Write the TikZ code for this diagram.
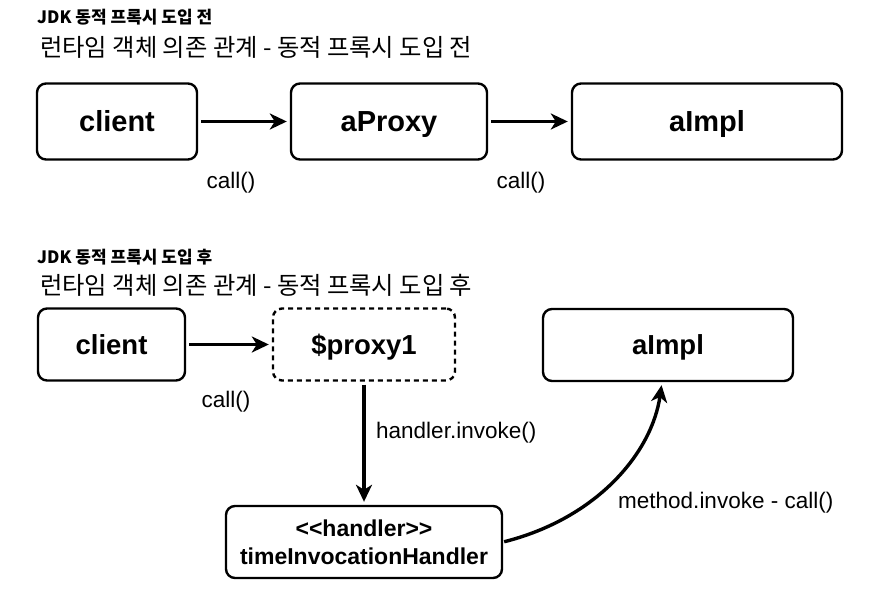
\documentclass[tikz,border=0pt]{standalone}
\usepackage{fontspec}
\setmainfont{Liberation Sans}
\newfontfamily\krfont{Noto Sans CJK KR}
\usetikzlibrary{arrows.meta}

\begin{document}
\begin{tikzpicture}[x=1pt, y=-1pt, >={Stealth[length=17pt, width=16pt, inset=5pt]},
	box/.style={draw, line width=2.4pt, rounded corners=9pt, inner sep=0pt, minimum height=76pt},
	big word/.style={text height=20.9pt, text depth=0pt, font=\fontsize{29}{32}\selectfont\bfseries},
	word/.style={text height=19.8pt, text depth=0pt, font=\fontsize{27.5}{30}\selectfont\bfseries},
	dashbox/.style={box, dash pattern=on 5pt off 4pt},
	arr/.style={->, line width=3.4pt, shorten <=3pt, shorten >=3pt},
	lbl/.style={inner sep=0pt, font=\fontsize{22.5}{26}\selectfont},
	small title/.style={anchor=base west, inner sep=0pt, font=\krfont\bfseries\fontsize{17}{19}\selectfont},
	big title/.style={anchor=base west, inner sep=0pt, font=\krfont\fontsize{24.3}{28}\selectfont}]
	\useasboundingbox (0,0) rectangle (882,605);
	% before
	\node[small title] (t1) at (37,23.6) {JDK 동적 프록시 도입 전};
	\node[big title] (t2) at (40,56) {런타임 객체 의존 관계 - 동적 프록시 도입 전};
	\node[box, big word, minimum width=160pt] (client) at (117,121.5) {client};
	\node[box, big word, minimum width=196pt] (aProxy) at (389,121.5) {aProxy};
	\node[box, big word, minimum width=270pt] (aImpl) at (707,121.5) {aImpl};
	\draw[arr] (client) -- (aProxy);
	\draw[arr] (aProxy) -- (aImpl);
	\node[lbl] (call1) at (231,183) {call()};
	\node[lbl] (call2) at (521,183) {call()};
	% after
	\node[small title] (t3) at (37,263.1) {JDK 동적 프록시 도입 후};
	\node[big title] (t4) at (40,294) {런타임 객체 의존 관계 - 동적 프록시 도입 후};
	\node[box, word, minimum width=147pt, minimum height=72pt] (client2) at (111.5,344.5) {client};
	\node[dashbox, word, minimum width=182pt, minimum height=72pt] (proxy1) at (364,344.5) {\$proxy1};
	\node[box, word, minimum width=250pt, minimum height=72pt] (aImpl2) at (668,345) {aImpl};
	\node[box, minimum width=276pt, minimum height=72pt, align=center, font=\fontsize{23}{28}\selectfont\bfseries] (handler) at (364,542) {<{}<handler>{}>\\timeInvocationHandler};
	\coordinate (implIn) at ([xshift=-6pt]aImpl2.south);
	\draw[arr] (client2) -- (proxy1);
	\draw[arr] (proxy1) -- (handler);
	\draw[arr, shorten <=1pt] (handler.east) .. controls (598,518) and (652,452) .. (implIn);
	\node[lbl] (call3) at (226,402) {call()};
	\node[lbl, anchor=west] (hinv) at (376,433) {handler.invoke()};
	\node[lbl, anchor=west] (minv) at (618,503) {method.invoke - call()};
\end{tikzpicture}
\end{document}
